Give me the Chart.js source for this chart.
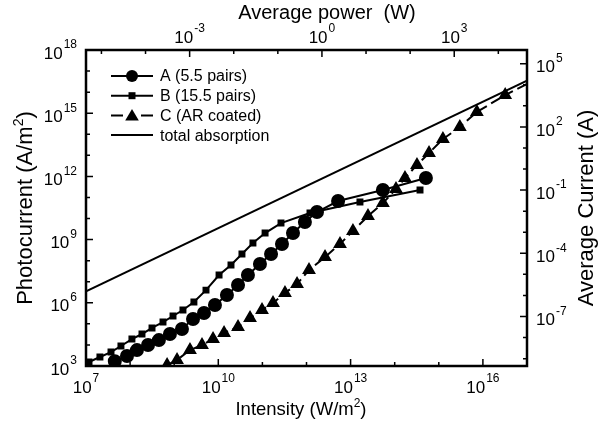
<!DOCTYPE html>
<html>
<head>
<meta charset="utf-8">
<script src="https://cdn.jsdelivr.net/npm/chart.js@4.4.1/dist/chart.umd.min.js"></script>
<style>
  html, body { margin: 0; padding: 0; background: #fff; }
  #wrap { width: 600px; height: 428px; }
</style>
</head>
<body>
<div id="wrap"><canvas id="grafico" width="600" height="428"></canvas></div>
<script>
// series A (5.5 pairs): intensity W/m2 -> photocurrent A/m2
const intensityA = [4.5e7, 8.5e7, 1.43e8, 2.55e8, 4.5e8, 8.0e8, 1.5e9, 2.67e9, 4.74e9, 8.4e9, 1.57e10, 2.8e10, 4.7e10, 8.8e10, 1.57e11, 2.78e11, 4.94e11, 9.2e11, 1.73e12, 5.2e12, 5.4e13, 5.1e14];
const currentA = [1.7e3, 3.0e3, 5.7e3, 9.9e3, 1.7e4, 3.3e4, 5.7e4, 1.7e5, 3.27e5, 7.85e5, 2.34e6, 7.0e6, 2.08e7, 6.9e7, 2.07e8, 6.2e8, 2.05e9, 6.8e9, 2.04e10, 6.8e10, 2.25e11, 8.4e11];

// series B (15.5 pairs)
const intensityB = [1.17e7, 2.07e7, 3.69e7, 6.2e7, 1.1e8, 1.86e8, 3.14e8, 5.57e8, 9.4e8, 1.58e9, 2.8e9, 5.26e9, 1.04e10, 1.94e10, 3.44e10, 6.1e10, 1.15e11, 2.64e11, 1.2e12, 1.63e13, 3.75e14];
const currentB = [1.55e3, 2.67e3, 4.6e3, 8.9e3, 1.9e4, 3.3e4, 6.4e4, 1.22e5, 2.36e5, 4.55e5, 1.09e6, 4.0e6, 2.08e7, 6.2e7, 2.07e8, 6.9e8, 2.05e9, 6.1e9, 1.83e10, 6.1e10, 2.25e11];

// series C (AR coated), last point is the end of the dashed fit
const intensityC = [6.9e8, 1.16e9, 2.28e9, 4.27e9, 7.6e9, 1.35e10, 2.8e10, 5.24e10, 9.8e10, 1.74e11, 3.25e11, 6.1e11, 1.14e12, 2.63e12, 5.75e12, 1.13e13, 2.48e13, 5.4e13, 1.07e14, 1.71e14, 3.2e14, 6.0e14, 1.24e15, 3.0e15, 7.3e15, 3.2e16, 1e17];
const currentC = [1.11e3, 1.93e3, 5.7e3, 9.9e3, 1.9e4, 3.7e4, 7.1e4, 1.9e5, 4.55e5, 9.8e5, 2.9e6, 7.8e6, 3.6e7, 1.49e8, 6.2e8, 2.55e9, 1.31e10, 5.4e10, 2.5e11, 8.4e11, 3.5e12, 1.29e13, 5.9e13, 2.2e14, 1.14e15, 7.3e15, 2.4e16];

// total absorption
const intensityTot = [1e7, 1e17];
const currentTot = [3.5e6, 3.5e16];

const seriesNames = ['A (5.5 pairs)', 'B (15.5 pairs)', 'C (AR coated)', 'total absorption'];

// axis ranges (log10)
const xRange = [7, 17];
const yRange = [3, 18];
const powerRange = [-5.35, 4.65];
const ampRange = [-9.35, 5.65];

const FONT = '"Liberation Sans", Arial, sans-serif';

const toPoints = (xs, ys) => xs.map((x, i) => ({ x, y: ys[i] }));

const pointRadiusC = intensityC.map((v, i) => i === intensityC.length - 1 ? 0 : 6);

const drawPow = (ctx, exp, x, y, align) => {
    // "10" with superscript, y = vertical centre of the whole label
    ctx.font = `17px ${FONT}`;
    const wBase = ctx.measureText('10').width;
    ctx.font = `12px ${FONT}`;
    const wExp = ctx.measureText(String(exp)).width;
    const total = wBase + wExp + 1;
    let left = x;
    if (align === 'center') left = x - total / 2;
    if (align === 'right') left = x - total;
    ctx.textAlign = 'left';
    ctx.textBaseline = 'middle';
    ctx.font = `17px ${FONT}`;
    ctx.fillText('10', left, y + 4);
    ctx.font = `12px ${FONT}`;
    ctx.fillText(String(exp), left + wBase + 1, y - 5);
};

const drawMarker = (ctx, style, x, y, r) => {
    ctx.beginPath();
    if (style === 'circle') {
        ctx.arc(x, y, r, 0, Math.PI * 2);
    } else if (style === 'rect') {
        ctx.rect(x - r, y - r, r * 2, r * 2);
    } else if (style === 'triangle') {
        ctx.moveTo(x, y - r);
        ctx.lineTo(x + r * 1.05, y + r * 0.8);
        ctx.lineTo(x - r * 1.05, y + r * 0.8);
        ctx.closePath();
    }
    ctx.fill();
};

const ejesPlugin = {
    id: 'ejes',
    afterDatasetsDraw(chart) {
        const ctx = chart.ctx;
        const a = chart.chartArea;
        const sx = chart.scales.x, sy = chart.scales.y;
        const sx2 = chart.scales.x2, sy2 = chart.scales.y2;
        ctx.save();
        ctx.strokeStyle = '#000';
        ctx.fillStyle = '#000';

        // ticks
        ctx.lineWidth = 1.5;
        ctx.beginPath();
        for (let e = xRange[0] + 1; e < xRange[1]; e++) {
            const px = sx.getPixelForValue(10 ** e);
            const len = (e - 7) % 3 === 0 ? 7 : 4;
            ctx.moveTo(px, a.bottom); ctx.lineTo(px, a.bottom - len);
        }
        for (let e = Math.ceil(powerRange[0]); e <= Math.floor(powerRange[1]); e++) {
            const px = sx2.getPixelForValue(10 ** e);
            const len = e % 3 === 0 ? 7 : 4;
            ctx.moveTo(px, a.top); ctx.lineTo(px, a.top + len);
        }
        for (let e = yRange[0] + 1; e < yRange[1]; e++) {
            const py = sy.getPixelForValue(10 ** e);
            const len = e % 3 === 0 ? 7 : 4;
            ctx.moveTo(a.left, py); ctx.lineTo(a.left + len, py);
        }
        for (let e = Math.ceil(ampRange[0]); e <= Math.floor(ampRange[1]); e++) {
            const py = sy2.getPixelForValue(10 ** e);
            const len = (e + 7) % 3 === 0 ? 7 : 4;
            ctx.moveTo(a.right, py); ctx.lineTo(a.right - len, py);
        }
        ctx.stroke();

        // frame
        ctx.lineWidth = 2.5;
        ctx.strokeRect(a.left, a.top, a.right - a.left, a.bottom - a.top);

        // tick labels
        [7, 10, 13, 16].forEach(e => drawPow(ctx, e, sx.getPixelForValue(10 ** e), a.bottom + 18, 'center'));
        [-3, 0, 3].forEach(e => drawPow(ctx, e, sx2.getPixelForValue(10 ** e), a.top - 16, 'center'));
        [3, 6, 9, 12, 15, 18].forEach(e => drawPow(ctx, e, a.left - 9, sy.getPixelForValue(10 ** e), 'right'));
        [-7, -4, -1, 2, 5].forEach(e => drawPow(ctx, e, a.right + 9, sy2.getPixelForValue(10 ** e), 'left'));

        // axis titles
        const titleWithSup = (txt, sup, tail, x, y, size) => {
            ctx.font = `${size}px ${FONT}`;
            const w1 = ctx.measureText(txt).width;
            const w3 = ctx.measureText(tail).width;
            ctx.font = `${Math.round(size * 0.65)}px ${FONT}`;
            const w2 = ctx.measureText(sup).width;
            let left = x - (w1 + w2 + w3) / 2;
            ctx.textAlign = 'left';
            ctx.textBaseline = 'middle';
            ctx.font = `${size}px ${FONT}`;
            ctx.fillText(txt, left, y);
            ctx.font = `${Math.round(size * 0.65)}px ${FONT}`;
            ctx.fillText(sup, left + w1, y - size * 0.33);
            ctx.font = `${size}px ${FONT}`;
            ctx.fillText(tail, left + w1 + w2, y);
        };
        const cy = (a.top + a.bottom) / 2;
        titleWithSup('Intensity (W/m', '2', ')', 301, a.bottom + 44, 18.5);
        ctx.font = `20px ${FONT}`;
        ctx.textAlign = 'center';
        ctx.textBaseline = 'middle';
        ctx.fillText('Average power  (W)', 327, 13);

        ctx.save();
        ctx.translate(26, cy);
        ctx.rotate(-Math.PI / 2);
        titleWithSup('Photocurrent (A/m', '2', ')', 0, 0, 22);
        ctx.restore();

        ctx.save();
        ctx.translate(587, cy);
        ctx.rotate(-Math.PI / 2);
        ctx.font = `22px ${FONT}`;
        ctx.textAlign = 'center';
        ctx.textBaseline = 'middle';
        ctx.fillText('Average Current (A)', 0, 0);
        ctx.restore();

        // legend
        const styles = ['circle', 'rect', 'triangle', null];
        const sizes = [6, 3.5, 6.5, 0];
        const lx0 = 111, lx1 = 153, ly0 = 76, dy = 19.7;
        styles.forEach((st, i) => {
            const ly = ly0 + i * dy;
            ctx.lineWidth = 2;
            ctx.beginPath();
            if (i === 2) {
                ctx.moveTo(lx0, ly); ctx.lineTo(lx0 + 12, ly);
                ctx.moveTo(lx1 - 12, ly); ctx.lineTo(lx1, ly);
            } else {
                ctx.moveTo(lx0, ly); ctx.lineTo(lx1, ly);
            }
            ctx.stroke();
            if (st) drawMarker(ctx, st, (lx0 + lx1) / 2, ly, sizes[i]);
            ctx.font = `16px ${FONT}`;
            ctx.textAlign = 'left';
            ctx.textBaseline = 'middle';
            ctx.fillText(seriesNames[i], 160, ly + 1);
        });
        ctx.restore();
    }
};

const base = { borderColor: '#000', backgroundColor: '#000', borderWidth: 2, showLine: true, tension: 0 };

new Chart(document.getElementById('grafico').getContext('2d'), {
    type: 'scatter',
    data: {
        datasets: [
            { ...base, label: seriesNames[0], data: toPoints(intensityA, currentA), pointStyle: 'circle', pointRadius: 6 },
            { ...base, label: seriesNames[1], data: toPoints(intensityB, currentB), pointStyle: 'rect', pointRadius: 3.5 },
            { ...base, label: seriesNames[2], data: toPoints(intensityC, currentC), pointStyle: 'triangle', pointRadius: pointRadiusC, borderDash: [10, 5] },
            { ...base, label: seriesNames[3], data: toPoints(intensityTot, currentTot), pointRadius: 0 }
        ]
    },
    options: {
        responsive: false,
        animation: false,
        devicePixelRatio: 1,
        layout: { padding: { left: 86, right: 73, top: 50, bottom: 62 } },
        plugins: { legend: { display: false }, tooltip: { enabled: false } },
        scales: {
            x: { type: 'logarithmic', position: 'bottom', display: false, min: 10 ** xRange[0], max: 10 ** xRange[1] },
            y: { type: 'logarithmic', position: 'left', display: false, min: 10 ** yRange[0], max: 10 ** yRange[1] },
            x2: { type: 'logarithmic', position: 'top', display: false, min: 10 ** powerRange[0], max: 10 ** powerRange[1] },
            y2: { type: 'logarithmic', position: 'right', display: false, min: 10 ** ampRange[0], max: 10 ** ampRange[1] }
        }
    },
    plugins: [ejesPlugin]
});
</script>
</body>
</html>
